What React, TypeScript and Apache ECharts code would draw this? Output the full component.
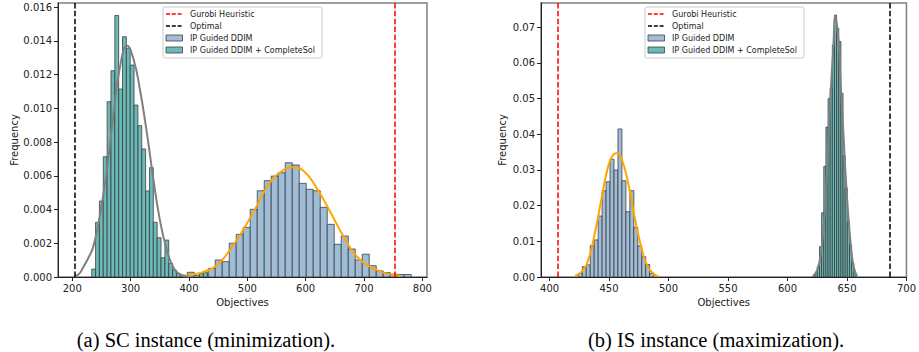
import React, { useEffect, useRef } from "react";
import * as echarts from "echarts";

// ---------- data ----------
const SC_X_TICKS = [200, 300, 400, 500, 600, 700, 800];
const SC_Y_TICKS = [0, 0.002, 0.004, 0.006, 0.008, 0.01, 0.012, 0.014, 0.016];
const IS_X_TICKS = [400, 450, 500, 550, 600, 650, 700];
const IS_Y_TICKS = [0, 0.01, 0.02, 0.03, 0.04, 0.05, 0.06, 0.07];

// SC (left) — IP Guided DDIM histogram
const SC_DDIM_START = 397;
const SC_DDIM_WIDTH = 12;
const SC_DDIM_FREQ = [
  0.00028, 0.0001, 0.0002, 0.00051, 0.00101, 0.00091, 0.002, 0.00253, 0.00294, 0.00401,
  0.00511, 0.00571, 0.00598, 0.00618, 0.00677, 0.00664, 0.00555, 0.0052, 0.00511, 0.00413,
  0.00312, 0.00194, 0.00243, 0.00166, 0.00101, 0.00135, 0.00067, 0.00036, 0.00026, 0.00017,
  0.00015, 0.00015,
];
// SC (left) — IP Guided DDIM + CompleteSol histogram
const SC_COMPLETE_START = 233.3;
const SC_COMPLETE_WIDTH = 6.6;
const SC_COMPLETE_FREQ = [
  0.00047, 0.00324, 0.0045, 0.00713, 0.01039, 0.01223, 0.0155, 0.01114, 0.01424, 0.01355,
  0.01256, 0.01019, 0.00897, 0.00759, 0.0051, 0.00648, 0.00324, 0.00233, 0.00114, 0.00219,
  0.00081, 0.00041, 0.0002, 0.0001, 0, 0, 0, 0, 0.0002, 0.0003,
];
// SC density curves
const SC_DDIM_KDE_X = [390, 410, 425, 448, 470, 493, 516, 539, 562, 577, 596, 619, 642, 665, 688, 711, 733, 762];
const SC_DDIM_KDE_Y = [0.00006, 0.00018, 0.0003, 0.0007, 0.0016, 0.0028, 0.0042, 0.0056, 0.00634, 0.0065, 0.0063, 0.00526, 0.00387, 0.0024, 0.0012, 0.0006, 0.00026, 0.00008];
const SC_COMPLETE_KDE_X = [205, 212, 219, 227, 236, 247, 259, 270, 282, 294, 305, 316, 328, 339, 350, 362, 373, 385, 400];
const SC_COMPLETE_KDE_Y = [0.00005, 0.0002, 0.0006, 0.0011, 0.0018, 0.0036, 0.0063, 0.0095, 0.0125, 0.0137, 0.0129, 0.0111, 0.0085, 0.0058, 0.0034, 0.0016, 0.0006, 0.00015, 0.00002];
const SC_GUROBI = 752;
const SC_OPTIMAL = 205;

// IS (right) — IP Guided DDIM histogram
const IS_DDIM_START = 424.2;
const IS_DDIM_WIDTH = 3.33;
const IS_DDIM_FREQ = [
  0.001, 0.0029, 0.0034, 0.0088, 0.0104, 0.0171, 0.0242, 0.0267, 0.033, 0.03,
  0.0415, 0.027, 0.0183, 0.0242, 0.0139, 0.0087, 0.0057, 0.0035, 0.001,
];
// IS (right) — IP Guided DDIM + CompleteSol histogram
const IS_COMPLETE_START = 621.5;
const IS_COMPLETE_WIDTH = 1.8;
const IS_COMPLETE_FREQ = [
  0.0005, 0.0012, 0.003, 0.0085, 0.018, 0.031, 0.042, 0.05, 0.053, 0.065,
  0.0734, 0.0697, 0.066, 0.0515, 0.034, 0.025, 0.0155, 0.009, 0.004, 0.0012,
];
const IS_DDIM_KDE_X = [421.4, 427, 432.5, 438, 443.7, 449.2, 453.3, 456.5, 460.3, 465.8, 471.4, 477, 482.5, 488, 491.6];
const IS_DDIM_KDE_Y = [0.0003, 0.0015, 0.0048, 0.0122, 0.022, 0.031, 0.0342, 0.0347, 0.0333, 0.0267, 0.0169, 0.0085, 0.0029, 0.0008, 0.0002];
const IS_COMPLETE_KDE_X = [621.5, 625, 628, 630, 632, 634.5, 636.5, 638.4, 640.3, 641.8, 643.4, 645, 647, 649.5, 652.3, 655, 657.5, 659];
const IS_COMPLETE_KDE_Y = [0.0003, 0.002, 0.0065, 0.0125, 0.022, 0.04, 0.053, 0.0636, 0.0733, 0.07, 0.0636, 0.052, 0.0403, 0.025, 0.0123, 0.004, 0.0008, 0.0002];
const IS_GUROBI = 407;
const IS_OPTIMAL = 686;

const LEGEND_LABELS = ["Gurobi Heuristic", "Optimal", "IP Guided DDIM", "IP Guided DDIM + CompleteSol"];
const CAPTIONS = ["(a) SC instance (minimization).", "(b) IS instance (maximization)."];

// ---------- styles ----------
const FONT = '"DejaVu Sans", sans-serif';
const BLUE = "#a0bdd8";
const TEAL = "#69bab8";
const EDGE = "rgba(55,55,55,0.75)";
const RED = "#ff0000";
const BLACK = "#000000";
const ORANGE = "#ffa500";
const GRAY = "#808080";

function bins(start: number, width: number, freq: number[]) {
  return freq
    .map((h, i) => [start + i * width, start + (i + 1) * width, h])
    .filter((d) => d[2] > 0);
}

function zip(xs: number[], ys: number[]) {
  return xs.map((x, i) => [x, ys[i]]);
}

function histSeries(idx: number, data: number[][], fill: string, name: string) {
  return {
    type: "custom",
    name,
    xAxisIndex: idx,
    yAxisIndex: idx,
    clip: true,
    encode: { x: [0, 1], y: 2 },
    data,
    renderItem: (_p: any, api: any) => {
      const p0 = api.coord([api.value(0), api.value(2)]);
      const p1 = api.coord([api.value(1), 0]);
      return {
        type: "rect",
        shape: { x: p0[0], y: p0[1], width: p1[0] - p0[0], height: p1[1] - p0[1] },
        style: { fill, stroke: EDGE, lineWidth: 1 },
      };
    },
  };
}

function kdeSeries(idx: number, data: number[][], color: string, gurobi: number, optimal: number) {
  return {
    type: "line",
    xAxisIndex: idx,
    yAxisIndex: idx,
    data,
    smooth: true,
    showSymbol: false,
    symbol: "none",
    lineStyle: { color, width: 2 },
    z: 3,
    markLine: {
      silent: true,
      symbol: ["none", "none"],
      label: { show: false },
      lineStyle: { type: [5.5, 2.4], width: 1.5 },
      data: [
        { xAxis: gurobi, lineStyle: { color: RED, type: [5.5, 2.4], width: 1.5 } },
        { xAxis: optimal, lineStyle: { color: BLACK, type: [5.5, 2.4], width: 1.5 } },
      ],
    },
  };
}

function xAxis(idx: number, min: number, max: number, ticks: number[]) {
  return {
    gridIndex: idx,
    type: "value",
    min,
    max,
    axisLine: { show: true, onZero: false, lineStyle: { color: "#222", width: 1 } },
    axisTick: { show: true, customValues: ticks, length: 4, lineStyle: { color: "#222" } },
    axisLabel: { customValues: ticks, color: "#222", fontSize: 10, fontFamily: FONT, margin: 6 },
    splitLine: { show: false },
    name: "Objectives",
    nameLocation: "middle",
    nameGap: 20,
    nameTextStyle: { color: "#222", fontSize: 10, fontFamily: FONT },
  };
}

function yAxis(idx: number, max: number, ticks: number[], digits: number, gap: number) {
  return {
    gridIndex: idx,
    type: "value",
    min: 0,
    max,
    axisLine: { show: true, lineStyle: { color: "#222", width: 1 } },
    axisTick: { show: true, customValues: ticks, length: 4, lineStyle: { color: "#222" } },
    axisLabel: {
      customValues: ticks,
      color: "#222",
      fontSize: 10,
      fontFamily: FONT,
      margin: 6,
      formatter: (v: number) => v.toFixed(digits),
    },
    splitLine: { show: false },
    name: "Frequency",
    nameLocation: "middle",
    nameRotate: 90,
    nameGap: gap,
    nameTextStyle: { color: "#222", fontSize: 10, fontFamily: FONT },
  };
}

function legend(x0: number) {
  const rowsY = [14, 26, 38, 50];
  const els: any[] = [
    {
      type: "rect",
      shape: { x: x0, y: 7, width: 159, height: 51, r: 2 },
      style: { fill: "rgba(255,255,255,0.8)", stroke: "#cccccc", lineWidth: 1 },
      z: 10,
    },
  ];
  const lineColors = [RED, BLACK];
  lineColors.forEach((c, i) => {
    els.push({
      type: "line",
      shape: { x1: x0 + 3, y1: rowsY[i], x2: x0 + 19, y2: rowsY[i] },
      style: { stroke: c, lineWidth: 1.5, lineDash: [4, 1.8] },
      z: 11,
    });
  });
  [BLUE, TEAL].forEach((c, i) => {
    els.push({
      type: "rect",
      shape: { x: x0 + 3, y: rowsY[i + 2] - 3, width: 16.5, height: 6 },
      style: { fill: c, stroke: EDGE, lineWidth: 1 },
      z: 11,
    });
  });
  LEGEND_LABELS.forEach((t, i) => {
    els.push({
      type: "text",
      x: x0 + 27,
      y: rowsY[i],
      style: { text: t, fill: "#222", font: `8px ${FONT}`, align: "left", verticalAlign: "middle" },
      z: 11,
    });
  });
  return els;
}

export default function App() {
  const ref = useRef<HTMLDivElement>(null);
  useEffect(() => {
    if (!ref.current) return;
    const chart = echarts.init(ref.current, undefined, { renderer: "svg" });
    const option: any = {
      animation: false,
      backgroundColor: "#ffffff",
      textStyle: { fontFamily: FONT },
      grid: [
        { left: 58, top: 3, width: 369, height: 274, show: true, borderColor: "#7f7f7f", borderWidth: 1.5, backgroundColor: "transparent" },
        { left: 541, top: 3, width: 368, height: 274, show: true, borderColor: "#7f7f7f", borderWidth: 1.5, backgroundColor: "transparent" },
      ],
      xAxis: [xAxis(0, 175.5, 808, SC_X_TICKS), xAxis(1, 392.8, 700, IS_X_TICKS)],
      yAxis: [yAxis(0, 0.01624, SC_Y_TICKS, 3, 39), yAxis(1, 0.0768, IS_Y_TICKS, 2, 34)],
      series: [
        histSeries(0, bins(SC_DDIM_START, SC_DDIM_WIDTH, SC_DDIM_FREQ), BLUE, LEGEND_LABELS[2]),
        histSeries(0, bins(SC_COMPLETE_START, SC_COMPLETE_WIDTH, SC_COMPLETE_FREQ), TEAL, LEGEND_LABELS[3]),
        kdeSeries(0, zip(SC_DDIM_KDE_X, SC_DDIM_KDE_Y), ORANGE, SC_GUROBI, SC_OPTIMAL),
        { ...kdeSeries(0, zip(SC_COMPLETE_KDE_X, SC_COMPLETE_KDE_Y), GRAY, SC_GUROBI, SC_OPTIMAL), markLine: undefined },
        histSeries(1, bins(IS_DDIM_START, IS_DDIM_WIDTH, IS_DDIM_FREQ), BLUE, LEGEND_LABELS[2]),
        histSeries(1, bins(IS_COMPLETE_START, IS_COMPLETE_WIDTH, IS_COMPLETE_FREQ), TEAL, LEGEND_LABELS[3]),
        kdeSeries(1, zip(IS_DDIM_KDE_X, IS_DDIM_KDE_Y), ORANGE, IS_GUROBI, IS_OPTIMAL),
        { ...kdeSeries(1, zip(IS_COMPLETE_KDE_X, IS_COMPLETE_KDE_Y), GRAY, IS_GUROBI, IS_OPTIMAL), markLine: undefined },
      ],
      graphic: [
        ...legend(163),
        ...legend(645),
        {
          type: "text",
          x: 206,
          y: 340,
          style: { text: CAPTIONS[0], fill: "#000", font: '20.5px "Liberation Serif", serif', align: "center", verticalAlign: "middle" },
        },
        {
          type: "text",
          x: 716,
          y: 340,
          style: { text: CAPTIONS[1], fill: "#000", font: '20.5px "Liberation Serif", serif', align: "center", verticalAlign: "middle" },
        },
      ],
    };
    chart.setOption(option);
    return () => chart.dispose();
  }, []);
  return (
    <div
      ref={ref}
      style={{ position: "absolute", left: 0, top: 0, width: 919, height: 352, background: "#fff" }}
    />
  );
}
